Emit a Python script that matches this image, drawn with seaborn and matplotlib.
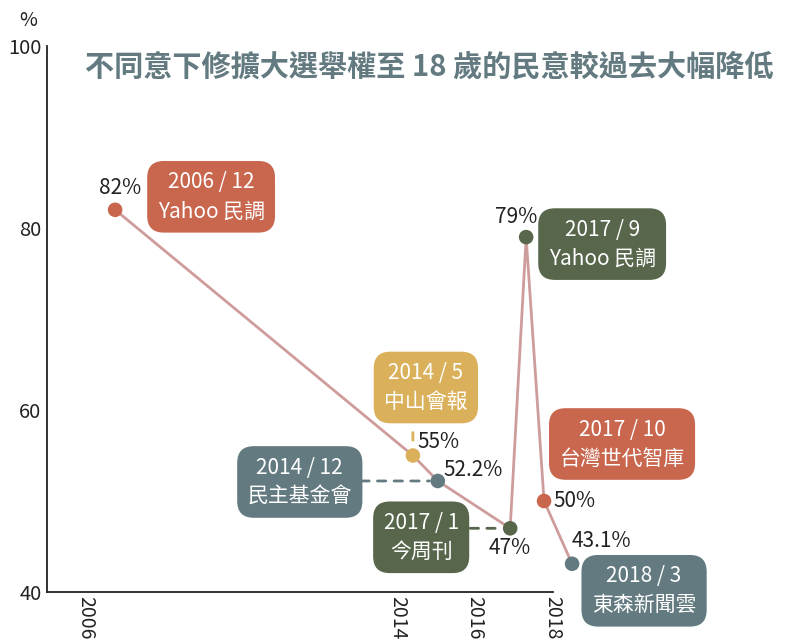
import matplotlib
matplotlib.use("Agg")
import matplotlib.pyplot as plt
import seaborn as sns
import pandas as pd

# ---- data ----
dates = ["2006 / 12", "2014 / 5", "2014 / 12", "2017 / 1", "2017 / 9", "2017 / 10", "2018 / 3"]
sources = ["Yahoo 民調", "中山會報", "民主基金會", "今周刊", "Yahoo 民調", "台灣世代智庫", "東森新聞雲"]
x_pos = [2006.75, 2014.40, 2015.04, 2016.90, 2017.31, 2017.77, 2018.49]
values = [82, 55, 52.2, 47, 79, 50, 43.1]
value_labels = ["82%", "55%", "52.2%", "47%", "79%", "50%", "43.1%"]
groups = ["orange", "gold", "slate", "olive", "olive", "orange", "slate"]
x_ticks = [2006, 2008, 2010, 2012, 2014, 2016, 2018]
x_ticklabels = ["2006", "", "", "", "2014", "2016", "2018"]
y_ticks = [40, 60, 80, 100]
title = "不同意下修擴大選舉權至 18 歲的民意較過去大幅降低"

palette = {"orange": "#c8664e", "gold": "#dbb05a", "slate": "#627a80", "olive": "#58664c"}
line_color = "#cf9c9c"

df = pd.DataFrame({"x": x_pos, "y": values, "g": groups})

sns.set_theme(style="white")
plt.rcParams["font.family"] = ["Noto Sans CJK TC", "DejaVu Sans"]

fig = plt.figure(figsize=(7.88, 6.42), dpi=100)
ax = fig.add_axes([47 / 788, 50 / 642, 506 / 788, 546 / 642])

sns.lineplot(data=df, x="x", y="y", sort=False, color=line_color, linewidth=2.0,
             ax=ax, clip_on=False, zorder=2)
sns.scatterplot(data=df, x="x", y="y", hue="g", palette=palette, s=110,
                edgecolor="none", legend=False, ax=ax, clip_on=False, zorder=3)

ax.set_xlim(2005, 2018)
ax.set_ylim(40, 100)
ax.set_xticks(x_ticks)
ax.set_xticklabels(x_ticklabels, rotation=270, fontsize=14, va="top", ha="center")
ax.set_yticks(y_ticks)
ax.set_yticklabels([str(v) for v in y_ticks], fontsize=14.5)
ax.tick_params(axis="both", direction="in", length=10, width=1.3, color="#222222",
               labelcolor="#222222", pad=4)
ax.tick_params(axis="x", pad=3)
ax.set_xlabel("")
ax.set_ylabel("")
for s in ["top", "right"]:
    ax.spines[s].set_visible(False)
for s in ["left", "bottom"]:
    ax.spines[s].set_color("#222222")
    ax.spines[s].set_linewidth(1.3)

# value labels (offsets in pixels from each point)
val_offsets = [(5, 22, "center"), (5, 14, "left"), (6, 11, "left"), (0, -20, "center"),
               (-10, 20, "center"), (9, 0, "left"), (0, 23, "left")]
for xv, yv, lab, (dx, dy, ha) in zip(x_pos, values, value_labels, val_offsets):
    ax.annotate(lab, xy=(xv, yv), xytext=(dx, dy), textcoords="offset pixels",
                ha=ha, va="center", fontsize=15, color="#222222", annotation_clip=False)

# source boxes
box_offsets = [(96, 13), (13, 68), (-138, -1), (-89, -9), (76, -7), (78, 57), (72, -27)]
for xv, yv, d, src, g, (dx, dy) in zip(x_pos, values, dates, sources, groups, box_offsets):
    ax.annotate(f"{d}\n{src}", xy=(xv, yv), xytext=(dx, dy), textcoords="offset pixels",
                ha="center", va="center", fontsize=15, color="white", linespacing=1.4,
                annotation_clip=False, zorder=5,
                bbox=dict(boxstyle="round,pad=0.5,rounding_size=0.8",
                          fc=palette[g], ec="none"))

# dashed connectors
ax.annotate("", xy=(x_pos[2], values[2]), xytext=(-77, 0), textcoords="offset pixels",
            arrowprops=dict(arrowstyle="-", linestyle=(0, (3, 3)), lw=2.0,
                            color=palette["slate"], shrinkA=0, shrinkB=6))
ax.annotate("", xy=(x_pos[3], values[3]), xytext=(-40, 0), textcoords="offset pixels",
            arrowprops=dict(arrowstyle="-", linestyle=(0, (3, 3)), lw=2.0,
                            color=palette["olive"], shrinkA=0, shrinkB=6))
ax.annotate("", xy=(x_pos[1], values[1]), xytext=(0, 23), textcoords="offset pixels",
            arrowprops=dict(arrowstyle="-", lw=2.0, color=palette["gold"],
                            shrinkA=0, shrinkB=11))

fig.text(28 / 788, 1 - 20 / 642, "%", fontsize=14, color="#222222", ha="center", va="center")
fig.text(85 / 788, 1 - 67 / 642, title, fontsize=21, fontweight="bold",
         color="#627a80", ha="left", va="center")

fig.savefig("out.png", dpi=100)
